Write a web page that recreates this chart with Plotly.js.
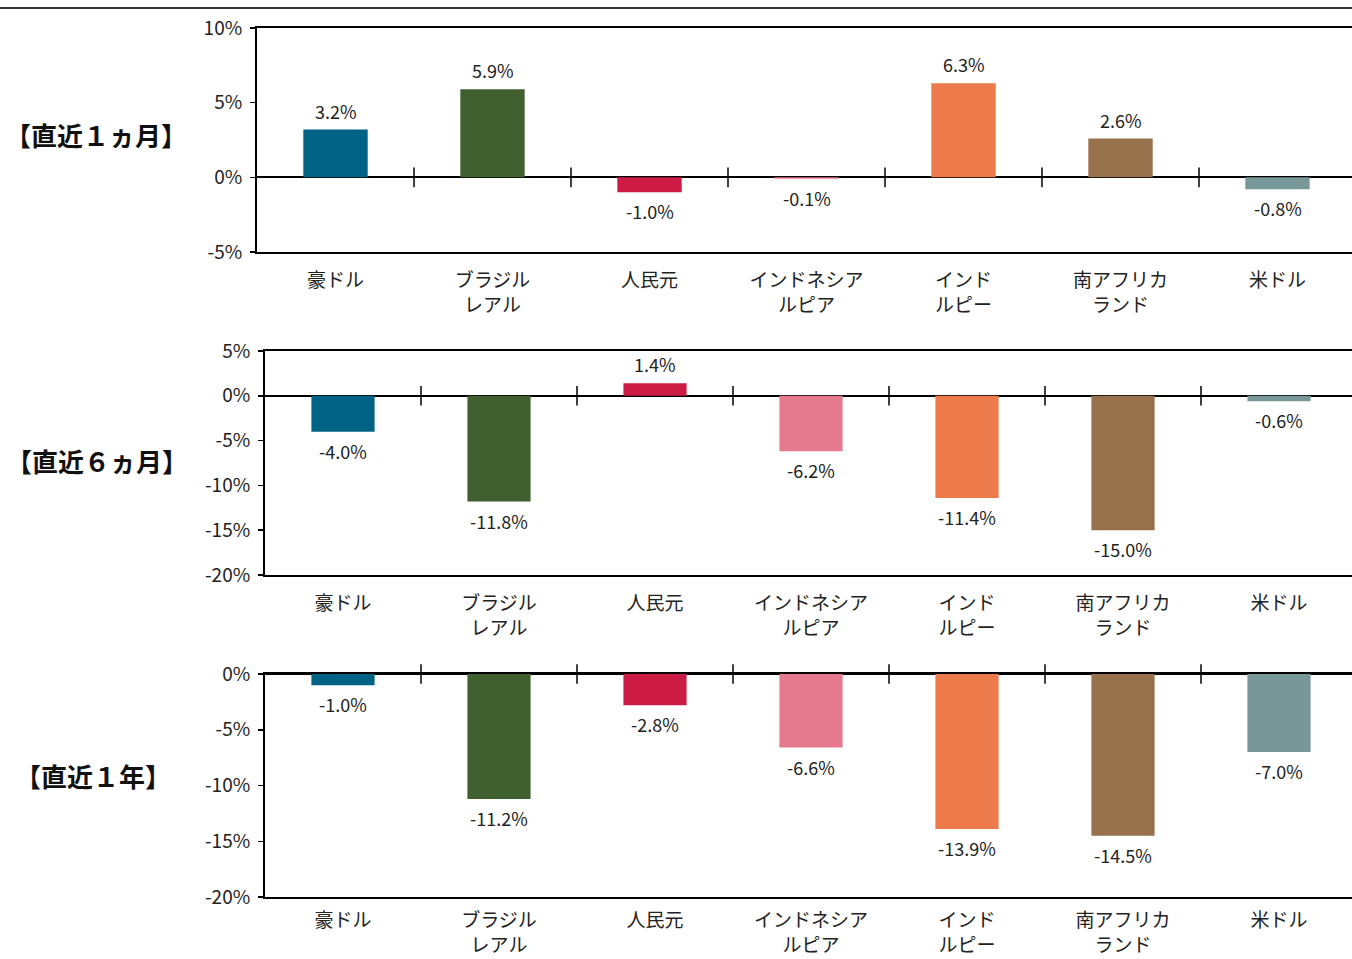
<!DOCTYPE html>
<html>
<head>
<meta charset="utf-8">
<script src="https://cdn.plot.ly/plotly-3.0.1.min.js"></script>
<style>html,body{margin:0;padding:0;background:#fff;}#chart{width:1352px;height:959px;}</style>
</head>
<body>
<div id="chart"></div>
<script>
const categories = ['豪ドル', 'ブラジル<br>レアル', '人民元', 'インドネシア<br>ルピア', 'インド<br>ルピー', '南アフリカ<br>ランド', '米ドル'];
const barColors = ['#006385', '#41602f', '#cc1b44', '#e57a8e', '#ec7a4a', '#96714b', '#779799'];
const oneMonth = [3.2, 5.9, -1.0, -0.1, 6.3, 2.6, -0.8];
const sixMonth = [-4.0, -11.8, 1.4, -6.2, -11.4, -15.0, -0.6];
const oneYear = [-1.0, -11.2, -2.8, -6.6, -13.9, -14.5, -7.0];
const periodLabels = ['【直近１ヵ月】', '【直近６ヵ月】', '【直近１年】'];
const yTicks1 = [-5, 0, 5, 10];
const yTicks2 = [-20, -15, -10, -5, 0, 5];
const yTicks3 = [-20, -15, -10, -5, 0];

const W = 1352, H = 959;
const FONT = '"Noto Sans CJK JP", "Noto Sans", sans-serif';
const TXT = '#222';
const px = v => v / W;
const py = v => 1 - v / H;

const seriesList = [oneMonth, sixMonth, oneYear];
const panels = [
  {top: 28, bottom: 252, left: 257, catW: 157, range: [-5, 10], ticks: yTicks1, bw: 0.41, labelY: 135, labelX: 96, standoff: 10},
  {top: 351, bottom: 575, left: 265, catW: 156, range: [-20, 5], ticks: yTicks2, bw: 0.405, labelY: 460, labelX: 97, standoff: 10},
  {top: 674, bottom: 897, left: 265, catW: 156, range: [-20, 0], ticks: yTicks3, bw: 0.405, labelY: 775, labelX: 93, standoff: 5}
];

const idx = categories.map((c, i) => i);
const bounds = idx.slice(0, -1).map(i => i + 0.5);
const traces = [];
const layout = {
  width: W, height: H,
  margin: {l: 0, r: 0, t: 0, b: 0},
  paper_bgcolor: '#fff', plot_bgcolor: '#fff',
  showlegend: false,
  font: {family: FONT, color: TXT},
  annotations: [],
  shapes: [{type: 'line', xref: 'paper', yref: 'paper', x0: 0, x1: 1, y0: py(8), y1: py(8), line: {color: '#333', width: 2}}]
};

panels.forEach((p, k) => {
  const n = k + 1;
  const xa = n === 1 ? 'x' : 'x' + n;
  const ya = n === 1 ? 'y' : 'y' + n;
  const vals = seriesList[k];
  traces.push({
    type: 'bar', x: idx, y: vals, xaxis: xa, yaxis: ya,
    width: p.bw,
    marker: {color: barColors, line: {width: 0}},
    hoverinfo: 'none'
  });
  traces.push({
    type: 'scatter', mode: 'markers', x: bounds, y: bounds.map(() => 0),
    xaxis: xa, yaxis: ya,
    marker: {symbol: 'line-ns-open', size: 14, color: '#000', line: {color: '#000', width: 1.5}},
    hoverinfo: 'none', cliponaxis: false
  });
  const plotW = W - p.left;
  const xr = [-0.5, -0.5 + plotW / p.catW];
  layout['xaxis' + (n === 1 ? '' : n)] = {
    domain: [px(p.left), 1], range: xr, anchor: ya,
    tickmode: 'array', tickvals: idx, ticktext: categories,
    ticks: '', showgrid: false, zeroline: false,
    showline: true, linecolor: '#000', linewidth: 2, mirror: true,
    tickfont: {family: FONT, size: 19, color: TXT},
    ticklabelstandoff: p.standoff, fixedrange: true
  };
  layout['yaxis' + (n === 1 ? '' : n)] = {
    domain: [py(p.bottom), py(p.top)], range: p.range, anchor: xa,
    tickmode: 'array', tickvals: p.ticks, ticktext: p.ticks.map(v => v + '%'),
    ticks: 'outside', ticklen: 5, tickwidth: 1.5, tickcolor: '#000',
    showgrid: false, zeroline: true, zerolinecolor: '#000', zerolinewidth: 2,
    showline: true, linecolor: '#000', linewidth: 2, mirror: false,
    tickfont: {family: FONT, size: 19, color: TXT},
    ticklabelstandoff: 4, fixedrange: true
  };
  vals.forEach((v, i) => {
    layout.annotations.push({
      xref: xa, yref: ya, x: i, y: v,
      text: v.toFixed(1) + '%', showarrow: false,
      yanchor: 'middle', yshift: v >= 0 ? 19 : -19,
      font: {family: FONT, size: 18, color: TXT}
    });
  });
  layout.annotations.push({
    xref: 'paper', yref: 'paper', x: px(p.labelX), y: py(p.labelY),
    xanchor: 'center', yanchor: 'middle', showarrow: false,
    text: '<b>' + periodLabels[k] + '</b>', borderpad: 0,
    font: {family: FONT, size: 26, color: '#111'}
  });
});

Plotly.newPlot('chart', traces, layout, {displayModeBar: false, staticPlot: true});
</script>
</body>
</html>
